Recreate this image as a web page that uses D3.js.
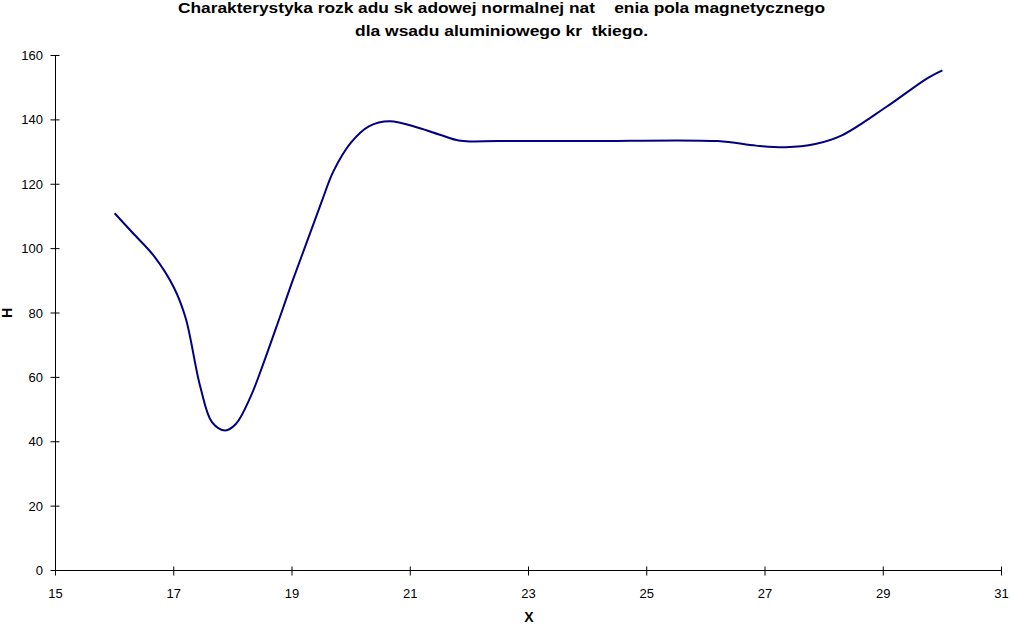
<!DOCTYPE html>
<html>
<head>
<meta charset="utf-8">
<script src="https://cdn.jsdelivr.net/npm/d3@7"></script>
<style>
  body { margin: 0; background: #fff; }
  svg text { font-family: "Liberation Sans", Arial, sans-serif; }
</style>
</head>
<body>
<svg id="chart" width="1010" height="628"></svg>
<script>
"use strict";

// values
const xValues = [16, 16.3, 16.67, 17, 17.2, 17.45, 17.65, 17.87, 18.05, 18.3, 18.5, 18.8, 19.0, 19.25, 19.5, 19.7, 20, 20.3, 20.65, 21.15, 21.5, 21.85, 22.5, 24, 26.2, 26.85, 27.35, 27.85, 28.3, 29.05, 29.75, 30]
const hValues = [111, 105, 97.6, 88, 78.5, 57, 46, 43.5, 45.5, 54, 63.5, 79, 89.5, 102, 114.5, 124, 133, 138, 139.6, 137.5, 135.4, 133.5, 133.4, 133.4, 133.4, 132, 131.5, 132.5, 135.2, 144, 153, 155.4]
const xTicks = [15, 17, 19, 21, 23, 25, 27, 29, 31]
const yTicks = [0, 20, 40, 60, 80, 100, 120, 140, 160]
const titleLines = [
  "Charakterystyka rozk adu sk adowej normalnej nat    enia pola magnetycznego",
  "dla wsadu aluminiowego kr  tkiego."
]
const titleWidths = [647, 293]

const svg = d3.select("#chart")

let x = d3.scaleLinear().domain([15, 31]).range([55.5, 1001.5])
let y = d3.scaleLinear().domain([0, 160]).range([570.5, 55.5])

// title
svg.selectAll(".title").data(titleLines).enter()
  .append("text")
  .attr("class", "title")
  .attr("x", 501.5)
  .attr("y", (d, i) => 13 + i * 23)
  .attr("text-anchor", "middle")
  .attr("font-size", "15px")
  .attr("font-weight", "bold")
  .attr("textLength", (d, i) => titleWidths[i])
  .attr("lengthAdjust", "spacingAndGlyphs")
  .style("white-space", "pre")
  .text(d => d)

// y axis
let yAxis = svg.append("g")
yAxis.append("line")
  .attr("x1", x(15)).attr("x2", x(15))
  .attr("y1", y(0)).attr("y2", y(160))
  .attr("stroke", "black")
yAxis.selectAll(".ytick").data(yTicks).enter()
  .append("line")
  .attr("x1", x(15) - 5).attr("x2", x(15) + 4)
  .attr("y1", d => y(d)).attr("y2", d => y(d))
  .attr("stroke", "black")
yAxis.selectAll(".ylab").data(yTicks).enter()
  .append("text")
  .attr("x", 43)
  .attr("y", d => y(d) + 4.5)
  .attr("text-anchor", "end")
  .attr("font-size", "13px")
  .text(d => d)

// x axis
let xAxis = svg.append("g")
xAxis.append("line")
  .attr("x1", x(15)).attr("x2", x(31))
  .attr("y1", y(0)).attr("y2", y(0))
  .attr("stroke", "black")
xAxis.selectAll(".xtick").data(xTicks).enter()
  .append("line")
  .attr("x1", d => x(d)).attr("x2", d => x(d))
  .attr("y1", y(0) - 4).attr("y2", y(0) + 5)
  .attr("stroke", "black")
xAxis.selectAll(".xlab").data(xTicks).enter()
  .append("text")
  .attr("x", d => x(d))
  .attr("y", 598)
  .attr("text-anchor", "middle")
  .attr("font-size", "13px")
  .text(d => d)

// axis titles
svg.append("text")
  .attr("x", 529).attr("y", 622)
  .attr("text-anchor", "middle")
  .attr("font-size", "14px")
  .attr("font-weight", "bold")
  .text("X")
svg.append("text")
  .attr("transform", "translate(12,313) rotate(-90)")
  .attr("text-anchor", "middle")
  .attr("font-size", "14px")
  .attr("font-weight", "bold")
  .text("H")

// smoothed curve
let pts = xValues.map((d, i) => [d, hValues[i]])
let line = d3.line()
  .x(d => x(d[0]))
  .y(d => y(d[1]))
  .curve(d3.curveCatmullRom.alpha(0.5))
svg.append("path")
  .datum(pts)
  .attr("d", line)
  .attr("fill", "none")
  .attr("stroke", "#000080")
  .attr("stroke-width", 2)
</script>
</body>
</html>
